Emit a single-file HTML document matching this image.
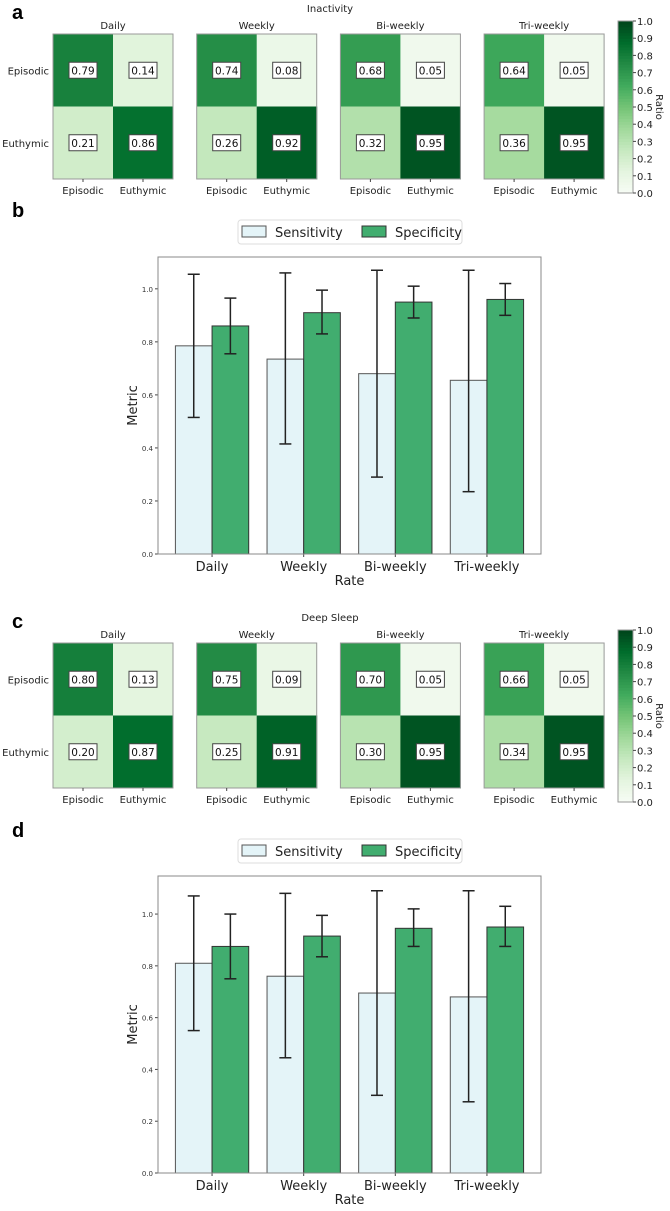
<!DOCTYPE html>
<html><head><meta charset="utf-8">
<style>
html,body{margin:0;padding:0;background:#fff;}
svg{display:block;font-family:"DejaVu Sans","Liberation Sans",sans-serif;}
</style></head>
<body>
<svg id="fig" width="670" height="1211" viewBox="0 0 670 1211" xmlns="http://www.w3.org/2000/svg"></svg>
<script>
// ---- data ----
const rates = ["Daily","Weekly","Bi-weekly","Tri-weekly"];
const classes = ["Episodic","Euthymic"];
// confusion ratios per rate: [EE, EU, UE, UU]
const inactivityCM = [[0.79,0.14,0.21,0.86],[0.74,0.08,0.26,0.92],[0.68,0.05,0.32,0.95],[0.64,0.05,0.36,0.95]];
const deepSleepCM = [[0.80,0.13,0.20,0.87],[0.75,0.09,0.25,0.91],[0.70,0.05,0.30,0.95],[0.66,0.05,0.34,0.95]];
const cbTicks = [0,0.1,0.2,0.3,0.4,0.5,0.6,0.7,0.8,0.9,1.0];
const yTicks = [0,0.2,0.4,0.6,0.8,1.0];
const bSens = [0.785,0.735,0.68,0.655];
const bSensLo = [0.515,0.415,0.29,0.235];
const bSensHi = [1.055,1.06,1.07,1.07];
const bSpec = [0.86,0.91,0.95,0.96];
const bSpecLo = [0.755,0.83,0.89,0.90];
const bSpecHi = [0.965,0.995,1.01,1.02];
const dSens = [0.81,0.76,0.695,0.68];
const dSensLo = [0.55,0.445,0.30,0.275];
const dSensHi = [1.07,1.08,1.09,1.09];
const dSpec = [0.875,0.915,0.945,0.95];
const dSpecLo = [0.75,0.835,0.875,0.875];
const dSpecHi = [1.0,0.995,1.02,1.03];

const NS="http://www.w3.org/2000/svg";
const svg=document.getElementById('fig');
function mk(tag,attrs,parent,txt){const e=document.createElementNS(NS,tag);for(const k in attrs)e.setAttribute(k,attrs[k]);if(txt!==undefined)e.textContent=txt;(parent||svg).appendChild(e);return e;}
const stops=[[247,252,245],[229,245,224],[199,233,192],[161,217,155],[116,196,118],[65,171,93],[35,139,69],[0,109,44],[0,68,27]];
function greens(v){v=Math.max(0,Math.min(1,v));const p=v*8,i=Math.min(7,Math.floor(p)),t=p-i;const a=stops[i],b=stops[i+1];return `rgb(${a.map((c,j)=>Math.round(c+(b[j]-c)*t)).join(',')})`;}

function heatmapRow(oy,title,letter,cms,prefix){
  const t1=mk('text',{x:12,y:oy+19,'font-size':20,'font-weight':'bold','font-family':'Liberation Sans,sans-serif'},svg,letter);
  
  
  const tt=mk('text',{x:330,y:oy+12,'font-size':10,'text-anchor':'middle',fill:'#222'},svg,title);
  
  
  const px0=53,pw=120,ph=145,gap=143.7,py=oy+34;
  cms.forEach((cm,r)=>{
    const g=mk('g',{});
    
    
    const x0=px0+r*gap;
    const st=mk('text',{x:x0+pw/2,y:py-5,'font-size':10,'text-anchor':'middle',fill:'#222'},g,rates[r]);
    
    
    cm.forEach((v,k)=>{
      const ci=k%2,ri=Math.floor(k/2);
      const cx=x0+ci*pw/2,cy=py+ri*ph/2;
      const c=mk('rect',{x:cx,y:cy,width:pw/2+0.5,height:ph/2+0.5,fill:greens(v)},g);
      
      
      const b=mk('rect',{x:cx+pw/4-14,y:cy+ph/4-8,width:28,height:16,fill:'#fff',stroke:'#444','stroke-width':1},g);
      
      
      const tx=mk('text',{x:cx+pw/4,y:cy+ph/4+4,'font-size':10.5,'text-anchor':'middle',fill:'#111'},g,v.toFixed(2));
      
      
    });
    mk('rect',{x:x0,y:py,width:pw,height:ph,fill:'none',stroke:'#999','stroke-width':1},g);
    classes.forEach((c,i)=>{
      const lx=mk('text',{x:x0+pw/4+i*pw/2,y:py+ph+15,'font-size':10,'text-anchor':'middle',fill:'#222'},g,c);
      
      
      mk('line',{x1:x0+pw/4+i*pw/2,x2:x0+pw/4+i*pw/2,y1:py+ph,y2:py+ph+3,stroke:'#444'},g);
      if(r===0){
        const ly=mk('text',{x:x0-4,y:py+ph/4+i*ph/2+4,'font-size':10,'text-anchor':'end',fill:'#222'},g,c);
        
        
      }
    });
  });
  // colorbar
  const cb=mk('g',{});
  
  
  const cbx=618,cbw=15,cby0=oy+21,cby1=oy+193,n=60;
  for(let i=0;i<n;i++){mk('rect',{x:cbx,y:cby1-(i+1)*(cby1-cby0)/n,width:cbw,height:(cby1-cby0)/n+0.6,fill:greens((i+0.5)/n)},cb);}
  mk('rect',{x:cbx,y:cby0,width:cbw,height:cby1-cby0,fill:'none',stroke:'#999'},cb);
  cbTicks.forEach(v=>{
    const y=cby1-v*(cby1-cby0);
    mk('line',{x1:cbx+cbw,x2:cbx+cbw+3,y1:y,y2:y,stroke:'#444'},cb);
    const t=mk('text',{x:cbx+cbw+4,y:y+4,'font-size':10,fill:'#222'},cb,v.toFixed(1));
    
    
  });
  const rl=mk('text',{x:0,y:0,'font-size':10,'text-anchor':'middle',fill:'#222',transform:`translate(656,${oy+107}) rotate(90)`},cb,'Ratio');
  
  
}

function barChart(oy,letter,ymax,sens,sensLo,sensHi,spec,specLo,specHi,prefix,bottom){
  const t1=mk('text',{x:12,y:oy+17,'font-size':20,'font-weight':'bold','font-family':'Liberation Sans,sans-serif'},svg,letter);
  
  
  const L=158,R=541,T=bottom-297,B=bottom;
  const yS=v=>B-v/ymax*(B-T);
  const step=(R-L)/4.18, c0=L+0.59*step;
  const xC=i=>c0+i*step, bw=step*0.4;
  const g=mk('g',{});
  
  
  // legend
  const lg=mk('g',{});
  
  
  mk('rect',{x:238,y:T-37,width:224,height:24,rx:3,fill:'#fff',stroke:'#ddd'},lg);
  mk('rect',{x:242,y:T-31,width:24,height:11,fill:'#e4f4f8',stroke:'#555'},lg);
  const a=mk('text',{x:275,y:T-20,'font-size':13,fill:'#222'},lg,'Sensitivity');
  
  
  mk('rect',{x:362,y:T-31,width:24,height:11,fill:'#41ad6f',stroke:'#333'},lg);
  const b=mk('text',{x:395,y:T-20,'font-size':13,fill:'#222'},lg,'Specificity');
  
  
  rates.forEach((r,i)=>{
    const x=xC(i);
    const s=mk('rect',{x:x-bw,y:yS(sens[i]),width:bw,height:B-yS(sens[i]),fill:'#e4f4f8',stroke:'#555','stroke-width':1},g);
    
    
    const p=mk('rect',{x:x,y:yS(spec[i]),width:bw,height:B-yS(spec[i]),fill:'#41ad6f',stroke:'#333','stroke-width':1},g);
    
    
    [[x-bw/2,sensLo[i],sensHi[i]],[x+bw/2,specLo[i],specHi[i]]].forEach(([ex,lo,hi])=>{
      const e=mk('g',{stroke:'#222','stroke-width':1.5},g);
      
      
      mk('line',{x1:ex,x2:ex,y1:yS(lo),y2:yS(hi)},e);
      mk('line',{x1:ex-6,x2:ex+6,y1:yS(lo),y2:yS(lo)},e);
      mk('line',{x1:ex-6,x2:ex+6,y1:yS(hi),y2:yS(hi)},e);
    });
    const tl=mk('text',{x:x,y:B+17,'font-size':13,'text-anchor':'middle',fill:'#222'},g,r);
    
    
    mk('line',{x1:x,x2:x,y1:B,y2:B+3,stroke:'#444'},g);
  });
  yTicks.forEach(v=>{
    const y=yS(v);
    mk('line',{x1:L-3,x2:L,y1:y,y2:y,stroke:'#444'},g);
    const t=mk('text',{x:L-5,y:y+3,'font-size':7,'text-anchor':'end',fill:'#333'},g,v.toFixed(1));
    
    
  });
  mk('rect',{x:L,y:T,width:R-L,height:B-T,fill:'none',stroke:'#888'},g);
  const yl=mk('text',{x:0,y:0,'font-size':13,'text-anchor':'middle',fill:'#222',transform:`translate(137,${(T+B)/2}) rotate(-90)`},g,'Metric');
  
  
  const xl=mk('text',{x:(L+R)/2,y:B+31,'font-size':13,'text-anchor':'middle',fill:'#222'},g,'Rate');
  
  
}

heatmapRow(0,'Inactivity','a',inactivityCM,'inactivity');
barChart(200,'b',1.12,bSens,bSensLo,bSensHi,bSpec,bSpecLo,bSpecHi,'inactivity',554);
heatmapRow(609,'Deep Sleep','c',deepSleepCM,'deep-sleep');
barChart(820,'d',1.147,dSens,dSensLo,dSensHi,dSpec,dSpecLo,dSpecHi,'deep-sleep',1173);
</script>
</body></html>
